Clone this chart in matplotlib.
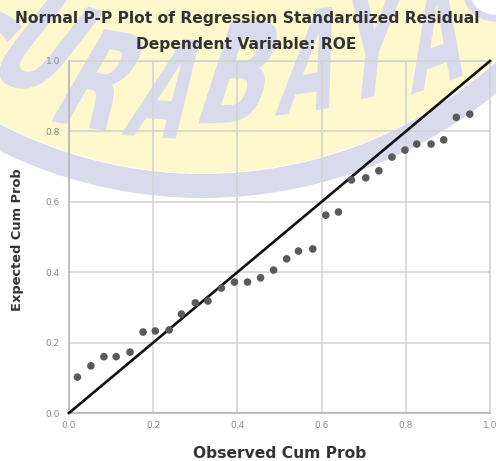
import numpy as np
import matplotlib
matplotlib.use('Agg')
import matplotlib.pyplot as plt
from matplotlib.patches import Circle, Wedge, PathPatch
from matplotlib.textpath import TextPath
from matplotlib.font_manager import FontProperties
from matplotlib.transforms import Affine2D

# data
observed = [0.020, 0.052, 0.083, 0.112, 0.145, 0.176, 0.205, 0.238, 0.267, 0.300,
            0.330, 0.362, 0.393, 0.424, 0.455, 0.486, 0.517, 0.545, 0.579, 0.610,
            0.640, 0.671, 0.705, 0.736, 0.767, 0.798, 0.826, 0.860, 0.890, 0.920, 0.952]
expected = [0.102, 0.134, 0.160, 0.160, 0.173, 0.230, 0.233, 0.236, 0.281, 0.313,
            0.318, 0.355, 0.372, 0.372, 0.384, 0.406, 0.438, 0.460, 0.466, 0.562,
            0.571, 0.662, 0.668, 0.688, 0.727, 0.747, 0.764, 0.764, 0.776, 0.840, 0.849]
ticks = [0.0, 0.2, 0.4, 0.6, 0.8, 1.0]
tick_labels = ['0.0', '0.2', '0.4', '0.6', '0.8', '1.0']

plt.rcParams['font.family'] = ['DejaVu Sans']

W, H = 496, 461
fig = plt.figure(figsize=(W / 100, H / 100), dpi=100)
fig.patch.set_facecolor('white')

# watermark in pixel coordinates
lav = '#d9dbed'
yel = '#fef8cc'
bg = fig.add_axes([0, 0, 1, 1], zorder=0)
bg.set_xlim(0, W)
bg.set_ylim(H, 0)
bg.axis('off')
bg.add_patch(Circle((203, -265), 438, color=yel, lw=0))
bg.add_patch(Wedge((203, -265), 463, 0, 360, width=24, color=lav, lw=0))
bg.add_patch(Circle((494, -10), 28, fc='white', ec=lav, lw=5))

fp = FontProperties(family='DejaVu Sans', weight='bold')
wm_letters = ['S', 'U', 'R', 'A', 'B', 'A', 'Y', 'A']
wm_x = [-32, 45, 105, 170, 242, 313, 373, 437]
wm_y = [52, 45, 80, 88, 72, 60, 45, 32]
wm_rot = [24, 18, 10, 4, -2, -8, -14, -20]
for ch, x, y, r in zip(wm_letters, wm_x, wm_y, wm_rot):
    tp = TextPath((0, 0), ch, size=1, prop=fp)
    ext = tp.get_extents()
    tr = (Affine2D().translate(-(ext.x0 + ext.x1) / 2, -(ext.y0 + ext.y1) / 2)
          .scale(55 / ext.width, 100 / ext.height)
          .skew_deg(20, 0).rotate_deg(-r).scale(1, -1).translate(x, y))
    bg.add_patch(PathPatch(tr.transform_path(tp), color=lav, lw=0))

ax = fig.add_axes([69 / W, 1 - 413 / H, (490 - 69) / W, (413 - 61) / H], zorder=1)
ax.set_facecolor('none')
ax.set_xlim(0, 1)
ax.set_ylim(0, 1)
ax.set_xticks(ticks)
ax.set_yticks(ticks)
ax.set_xticklabels(tick_labels)
ax.set_yticklabels(tick_labels)
ax.tick_params(length=0, labelsize=6.5, labelcolor='#8a8a8a')
ax.tick_params(axis='x', pad=6)
ax.tick_params(axis='y', pad=6.5)
ax.grid(True, color='#d2d2d2', lw=1.1)
ax.set_axisbelow(True)
for s in ['left', 'bottom']:
    ax.spines[s].set_color('#b5b5b5')
    ax.spines[s].set_linewidth(1.2)
for s in ['top', 'right']:
    ax.spines[s].set_color('#d2d2d2')
    ax.spines[s].set_linewidth(1.1)

ax.plot([0, 1], [0, 1], color='#111111', lw=1.9, zorder=3, clip_on=False)
ax.scatter(observed, expected, s=30, color='#5a5a5a', edgecolors='none', zorder=4, clip_on=False)

fig.text(247 / W, 1 - 18 / H, 'Normal P-P Plot of Regression Standardized Residual',
         ha='center', va='center', fontsize=11.2, fontweight='bold', color='#333333')
fig.text(246 / W, 1 - 45 / H, 'Dependent Variable: ROE',
         ha='center', va='center', fontsize=11.2, fontweight='bold', color='#333333')
fig.text(280 / W, 1 - 453 / H, 'Observed Cum Prob',
         ha='center', va='center', fontsize=11.2, fontweight='bold', color='#333333')
fig.text(18 / W, 1 - 240 / H, 'Expected Cum Prob', rotation=90,
         ha='center', va='center', fontsize=9.4, fontweight='bold', color='#333333')

fig.savefig('out.png', dpi=100)
